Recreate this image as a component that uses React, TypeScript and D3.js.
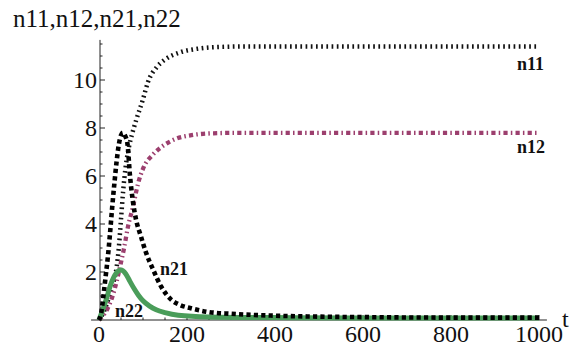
import React from "react";
import * as d3 from "d3";

// Time samples and series values for each population curve
const tN11 = [0, 10, 20, 30, 40, 45, 50, 55, 60, 68, 76, 84, 100, 111, 132, 150, 184, 223, 280, 350, 500, 1000];
const n11 = [0, 0.3, 0.8, 1.4, 2.2, 3.0, 4.2, 5.4, 6.3, 7.2, 7.8, 8.3, 9.2, 9.9, 10.55, 10.85, 11.15, 11.3, 11.38, 11.4, 11.4, 11.4];

const tN12 = [0, 10, 20, 30, 40, 50, 57, 66, 77, 89, 100, 123, 145, 175, 210, 260, 320, 500, 1000];
const n12 = [0, 0.2, 0.5, 0.95, 1.6, 2.4, 3.0, 3.9, 4.7, 5.7, 6.3, 6.9, 7.25, 7.55, 7.7, 7.78, 7.8, 7.8, 7.8];

const tN21 = [0, 5, 10, 15, 20, 25, 30, 35, 40, 45, 50, 54, 60, 65, 70, 77, 84, 95, 107, 123, 141, 164, 185, 207, 250, 300, 400, 500, 600, 800, 1000];
const n21 = [0, 0.3, 1.0, 1.8, 2.6, 3.6, 4.7, 5.7, 6.6, 7.3, 7.7, 7.8, 7.65, 7.3, 6.1, 4.95, 4.2, 3.5, 2.8, 2.1, 1.4, 0.85, 0.62, 0.5, 0.33, 0.26, 0.18, 0.14, 0.12, 0.1, 0.1];

const tN22 = [0, 8, 16, 27, 39, 50, 61, 70, 80, 90, 100, 115, 130, 150, 180, 250, 400, 600, 1000];
const n22 = [0, 0.4, 0.83, 1.5, 1.95, 2.08, 1.92, 1.62, 1.3, 1.02, 0.8, 0.58, 0.43, 0.31, 0.2, 0.13, 0.1, 0.08, 0.08];

const xMajorTicks = [0, 200, 400, 600, 800, 1000];
const yMajorTicks = [2, 4, 6, 8, 10];

const W = 575;
const H = 347;
const SERIF = "'Liberation Serif', 'Times New Roman', Times, 'DejaVu Serif', serif";

type Series = {
  name: string;
  t: number[];
  v: number[];
  color: string;
  width: number;
  dash?: string;
};

const series: Series[] = [
  { name: "n11", t: tN11, v: n11, color: "#111111", width: 4.5, dash: "1.7 3.5" },
  { name: "n12", t: tN12, v: n12, color: "#9c3f6e", width: 4.3, dash: "4.2 3.2 1.5 3.2" },
  { name: "n22", t: tN22, v: n22, color: "#4a9d5a", width: 5 },
  { name: "n21", t: tN21, v: n21, color: "#000000", width: 4.6, dash: "4.2 3.2" },
];

export default function App() {
  const x = d3.scaleLinear().domain([0, 1000]).range([99, 539]);
  const y = d3.scaleLinear().domain([0, 10]).range([320, 80]);

  const line = (s: Series) =>
    d3
      .line<number>()
      .x((_, i) => x(s.t[i]))
      .y((d) => y(d))
      .curve(d3.curveMonotoneX)(s.v) || "";

  const xMinor = d3.range(0, 1001, 50).filter((d) => d % 200 !== 0);
  const yMinor = d3.range(0.5, 11.6, 0.5).filter((d) => d % 2 !== 0);

  const axisColor = "#222";

  return (
    <svg
      width={W}
      height={H}
      style={{ position: "absolute", left: 0, top: 0, background: "#fff", fontFamily: SERIF }}
    >
      {/* axes */}
      <line x1={x(-18)} x2={x(1018)} y1={y(0)} y2={y(0)} stroke={axisColor} strokeWidth={1} />
      <line x1={x(0) + 1} x2={x(0) + 1} y1={y(0)} y2={y(11.67)} stroke={axisColor} strokeWidth={1} />

      {xMajorTicks.map((d) => (
        <g key={"xt" + d}>
          <line x1={x(d)} x2={x(d)} y1={y(0)} y2={y(0) - 5} stroke={axisColor} />
          <text x={x(d)} y={342} textAnchor="middle" fontSize={24} fill="#111">
            {d}
          </text>
        </g>
      ))}
      {xMinor.map((d) => (
        <line key={"xm" + d} x1={x(d)} x2={x(d)} y1={y(0)} y2={y(0) - 2.5} stroke={axisColor} />
      ))}

      {yMajorTicks.map((d) => (
        <g key={"yt" + d}>
          <line x1={x(0) + 1} x2={x(0) + 6} y1={y(d)} y2={y(d)} stroke={axisColor} />
          <text x={97} y={y(d)} dy="0.35em" textAnchor="end" fontSize={24} fill="#111">
            {d}
          </text>
        </g>
      ))}
      {yMinor.map((d) => (
        <line key={"ym" + d} x1={x(0) + 1} x2={x(0) + 3.5} y1={y(d)} y2={y(d)} stroke={axisColor} />
      ))}

      <text x={13} y={27} fontSize={25} fill="#111">
        n11,n12,n21,n22
      </text>
      <text x={562} y={327} fontSize={24} fill="#111">
        t
      </text>

      {/* curves */}
      {series.map((s) => (
        <path
          key={s.name}
          d={line(s)}
          fill="none"
          stroke={s.color}
          strokeWidth={s.width}
          strokeDasharray={s.dash}
        />
      ))}

      {/* curve labels */}
      <g fontSize={18} fontWeight="bold" fill="#111">
        <text x={517} y={70}>n11</text>
        <text x={517} y={153}>n12</text>
        <text x={160} y={275}>n21</text>
        <text x={115} y={317}>n22</text>
      </g>
    </svg>
  );
}
